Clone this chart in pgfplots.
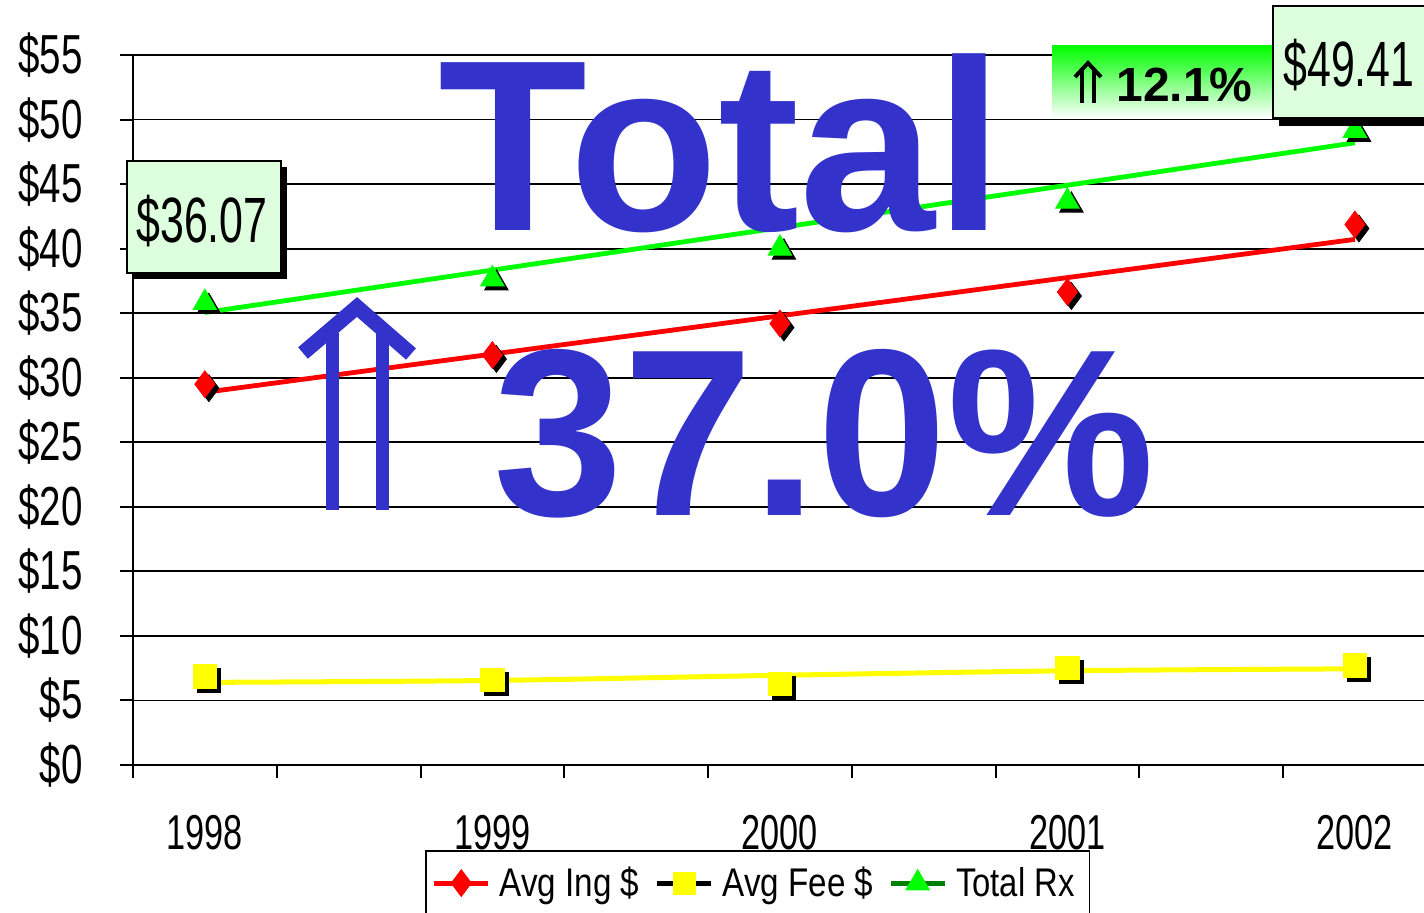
\documentclass[border=0pt]{standalone}
\usepackage{pgfplots}
\usepackage{pgfplotstable}
\pgfplotsset{compat=1.18}
\usepackage{fontspec}
\setmainfont{Liberation Sans}
\newcommand\nx[2]{\scalebox{#1}[1]{#2}}
\newcommand\yl[1]{\scalebox{0.7}[1]{\$#1}}
\definecolor{tblue}{RGB}{51,51,204}
\definecolor{lgreen}{RGB}{0,255,0}
\definecolor{dgreen}{RGB}{0,128,0}
\definecolor{boxgreen}{RGB}{221,255,221}
\definecolor{ylw}{RGB}{255,255,0}
\definecolor{rd}{RGB}{255,0,0}

\pgfplotstableread{
x ing fee rx
0 29.50 6.86 36.07
1 31.76 6.62 37.90
2 34.20 6.31 40.28
3 36.64 7.51 43.92
4 41.87 7.71 49.41
}\datatable

\begin{document}
\begin{tikzpicture}
\begin{axis}[
  at={(0,0)}, anchor=south west,
  scale only axis, width=646.9pt, height=355pt,
  xmin=-0.25, xmax=4.25, ymin=0, ymax=55,
  axis lines=left, axis line style={-, black, line width=1pt},
  xtick={-0.25,0.25,0.75,1.25,1.75,2.25,2.75,3.25,3.75,4.25},
  xticklabels={},
  ytick={0,5,10,15,20,25,30,35,40,45,50,55},
  yticklabels={\yl{0},\yl{5},\yl{10},\yl{15},\yl{20},\yl{25},\yl{30},\yl{35},\yl{40},\yl{45},\yl{50},\yl{55}},
  ymajorgrids, grid style={black, line width=0.9pt},
  tick style={black, line width=1pt},
  tick align=outside, major tick length=6.5pt,
  yticklabel style={font=\fontsize{27.5pt}{27.5pt}\selectfont, anchor=east, inner sep=0pt, xshift=-18.5pt},
  extra x ticks={0,1,2,3,4},
  extra x tick labels={\nx{0.7}{1998},\nx{0.7}{1999},\nx{0.7}{2000},\nx{0.7}{2001},\nx{0.7}{2002}},
  extra x tick style={major tick length=0pt, grid=none,
    xticklabel style={font=\fontsize{24.5pt}{24.5pt}\selectfont, anchor=north, inner sep=0pt, yshift=-25pt}},
  legend style={at={(0.2257,-0.1197)}, anchor=north west, draw=black, line width=0.8pt,
    font=\fontsize{20pt}{20pt}\selectfont,
    nodes={inner xsep=4.5pt},
    /tikz/every even column/.append style={column sep=3pt},
    inner xsep=3pt, inner ysep=6pt},
  legend columns=-1,
  legend image code/.code={\draw[mark repeat=2,mark phase=2,#1] plot coordinates {(0pt,0pt) (13.5pt,0pt) (27pt,0pt)};},
]
% trend lines
\addplot[rd, line width=2.4pt, forget plot] coordinates {(0,28.87) (4,40.72)};
\addplot[lgreen, line width=2.4pt, forget plot] coordinates {(0,35.05) (4,48.2)};
\addplot[ylw, line width=2.5pt, smooth, forget plot] coordinates {(0,6.40) (1,6.55) (2,6.95) (3,7.30) (4,7.45)};
% shadows
\addplot[only marks, mark=diamond*, mark size=6.7pt, black, forget plot, mark options={xshift=2pt,yshift=-2pt}] table[x=x,y=ing]{\datatable};
\addplot[only marks, mark=square*, mark size=5.8pt, black, forget plot, mark options={xshift=2pt,yshift=-2pt}] table[x=x,y=fee]{\datatable};
\addplot[only marks, mark=triangle*, mark size=6.8pt, black, forget plot, mark options={xshift=2pt,yshift=-3.7pt}] table[x=x,y=rx]{\datatable};
% markers
\addplot[only marks, mark=diamond*, mark size=6.7pt, draw=rd, fill=rd, forget plot] table[x=x,y=ing]{\datatable};
\addplot[only marks, mark=square*, mark size=5.8pt, draw=ylw, fill=ylw, forget plot] table[x=x,y=fee]{\datatable};
\addplot[only marks, mark=triangle*, mark size=6.8pt, draw=lgreen, fill=lgreen, forget plot, mark options={yshift=-1.7pt}] table[x=x,y=rx]{\datatable};
% legend
\addlegendimage{rd, line width=2.5pt, mark=diamond*, mark size=6.7pt, mark options={solid, fill=rd, draw=rd, line width=0.4pt}}
\addlegendentry{\nx{0.83}{Avg Ing \$}}
\addlegendimage{black, line width=2.5pt, mark=square*, mark size=5.5pt, mark options={solid, fill=ylw, draw=ylw, line width=0.4pt}}
\addlegendentry{\nx{0.83}{Avg Fee \$}}
\addlegendimage{dgreen, line width=2.5pt, mark=triangle*, mark size=6.8pt, mark options={solid, fill=lgreen, draw=lgreen, line width=0.4pt}}
\addlegendentry{\nx{0.82}{Total Rx}}
\end{axis}

\begin{scope}[x=0.5pt,y=-0.5pt,shift={(-133,-765)}]
% big arrow
\draw[tblue, line width=6.5pt] (332,510) -- (332,333);
\draw[tblue, line width=6.5pt] (382,510) -- (382,333);
\draw[tblue, line width=7.5pt, miter limit=10] (303,353) -- (357,307) -- (411,354);
% big texts
\node[font=\bfseries\fontsize{122pt}{122pt}\selectfont, text=tblue, anchor=base west, inner sep=0pt] at (438,230) {Total};
\node[font=\bfseries\fontsize{119pt}{119pt}\selectfont, text=tblue, anchor=base west, inner sep=0pt] at (493,515) {\nx{0.98}{37.0\%}};
% 36.07 callout
\fill[black] (133,167) rectangle (287,279);
\draw[fill=boxgreen, line width=0.8pt] (127,161) rectangle (281,273);
\node[font=\fontsize{32pt}{32pt}\selectfont, inner sep=0pt, anchor=base] at (202,242) {\nx{0.67}{\$36.07}};
% 12.1% box
\shade[top color=lgreen, bottom color=white] (1052,46) rectangle (1280,118);
\draw[black, line width=2pt] (1082,103) -- (1082,68);
\draw[black, line width=2pt] (1094,103) -- (1094,68);
\draw[black, line width=2pt, miter limit=10] (1075,77) -- (1088,63) -- (1101,77);
\node[font=\bfseries\fontsize{24pt}{24pt}\selectfont, anchor=base west, inner sep=0pt] at (1116,102) {12.1\%};
% 49.41 callout
\fill[black] (1279,12) rectangle (1424,126);
\draw[fill=boxgreen, line width=0.8pt] (1273,6) rectangle (1430,118);
\node[font=\fontsize{32pt}{32pt}\selectfont, inner sep=0pt, anchor=base] at (1349,87) {\nx{0.67}{\$49.41}};
\end{scope}
\pgfresetboundingbox
\useasboundingbox (-66.5pt,-73.5pt) rectangle (645.5pt,382.5pt);
\end{tikzpicture}
\end{document}
